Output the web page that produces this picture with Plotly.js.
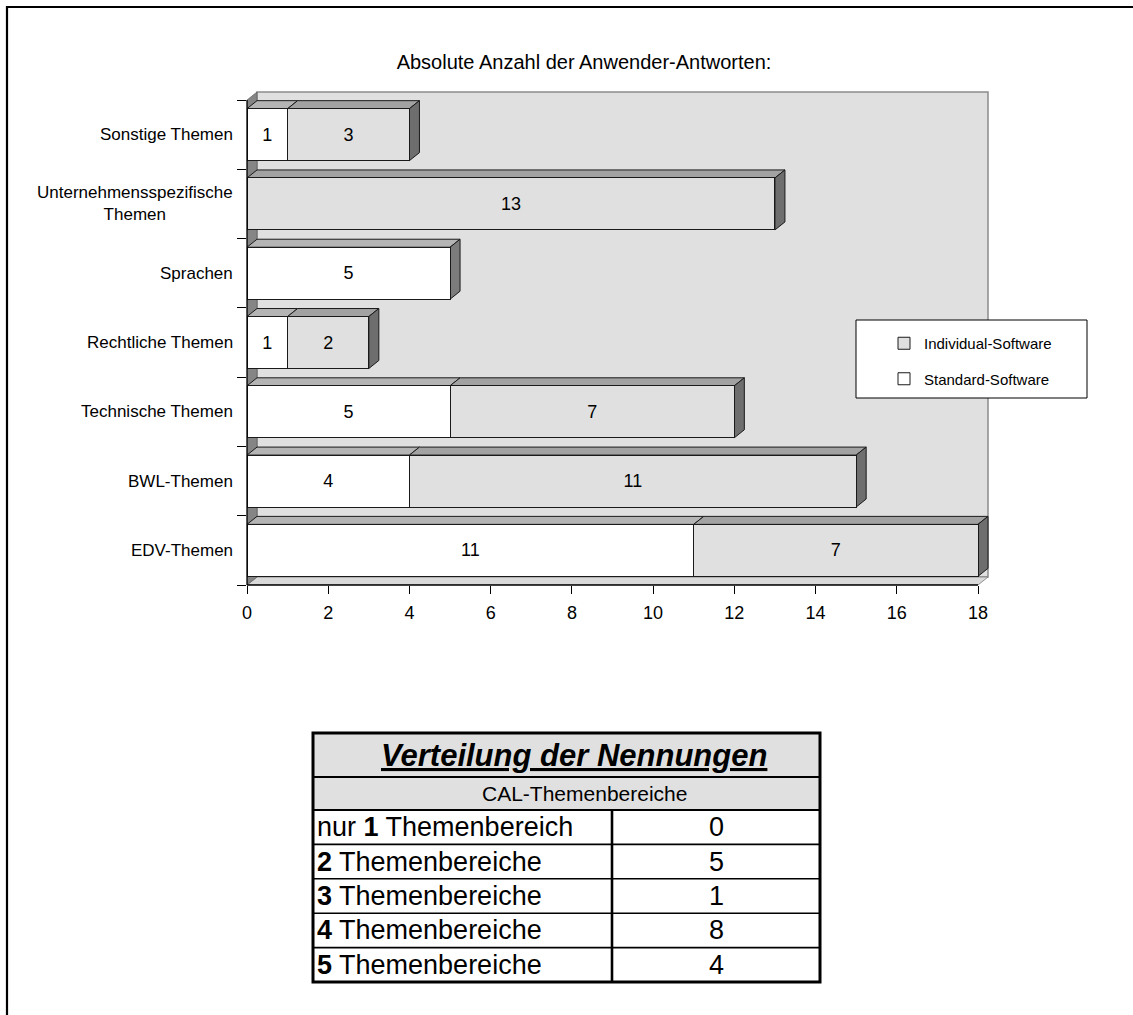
<!DOCTYPE html>
<html>
<head>
<meta charset="utf-8">
<script src="https://cdn.plot.ly/plotly-3.0.1.min.js"></script>
<style>
  html, body { margin: 0; padding: 0; background: #ffffff; }
  #chart { width: 1133px; height: 1015px; }
</style>
</head>
<body>
<div id="chart"></div>
<script>
// ---- data ----
const categories = ['EDV-Themen', 'BWL-Themen', 'Technische Themen', 'Rechtliche Themen',
                    'Sprachen', 'Unternehmensspezifische Themen', 'Sonstige Themen'];
const categoryLabels = ['EDV-Themen', 'BWL-Themen', 'Technische Themen', 'Rechtliche Themen',
                        'Sprachen', 'Unternehmensspezifische<br>Themen', 'Sonstige Themen'];
const standardSoftware = [11, 4, 5, 1, 5, 0, 1];
const individualSoftware = [7, 11, 7, 2, 0, 13, 3];
const xTickValues = [0, 2, 4, 6, 8, 10, 12, 14, 16, 18];
const chartTitle = 'Absolute Anzahl der Anwender-Antworten:';

const tableTitle = 'Verteilung der Nennungen';
const tableSubtitle = 'CAL-Themenbereiche';
const tableTopicCounts = [1, 2, 3, 4, 5];
const tableMentions = [0, 5, 1, 8, 4];

// ---- geometry of the plot area (pixels) ----
const FONT = 'Liberation Sans, Arial, sans-serif';
const L = 247;            // left edge of plot area
const axisLenPx = 731;    // pixel length of 0..18 on the value axis
const xAxisMax = 18;
const unitPx = axisLenPx / xAxisMax;
const bandPx = 485 / categories.length;
const depthX = 10, depthY = 8;           // 3-D depth of bars and walls
const plotBottom = 585;
const plotTop = 100 - depthY - 3;
const H = plotBottom - plotTop;
const W = axisLenPx + depthX + 3;

const dxU = depthX / unitPx;
const dyU = depthY / bandPx;
const xMax = W / unitPx;
const yMin = -0.5;
const yMax = yMin + H / bandPx;
const frontTop = categories.length - 0.5;

const px2x = p => (p - L) / W;
const px2y = p => (plotBottom - p) / H;
const f = v => v.toFixed(5);
const poly = pts => 'M' + pts.map(p => f(p[0]) + ',' + f(p[1])).join(' L') + ' Z';

const barWidth = 0.75;
const series = [
  { name: 'Standard-Software',   values: standardSoftware,   rank: 2, front: '#ffffff', top: '#b4b4b4', side: '#7c7c7c' },
  { name: 'Individual-Software', values: individualSoftware, rank: 1, front: '#e0e0e0', top: '#a2a2a2', side: '#6e6e6e' }
];

// ---- bar traces (front faces) ----
const traces = series.map(s => ({
  type: 'bar',
  orientation: 'h',
  name: s.name,
  legendgroup: s.name,
  legendrank: s.rank,
  x: s.values,
  y: categories,
  width: barWidth,
  marker: { color: s.front, line: { color: '#1a1a1a', width: 1 } },
  text: s.values.map(v => (v ? String(v) : '')),
  textposition: 'inside',
  insidetextanchor: 'middle',
  textangle: 0,
  textfont: { family: FONT, size: 18, color: '#000000' },
  hovertemplate: '%{y}: %{x}<extra>' + s.name + '</extra>'
}));

// ---- walls and floor ----
const shapes = [];
shapes.push({
  type: 'rect', xref: 'x', yref: 'y', layer: 'below',
  x0: dxU, x1: xAxisMax + dxU, y0: yMin + dyU, y1: frontTop + dyU,
  fillcolor: '#e0e0e0', line: { color: '#8c8c8c', width: 1.5 }
});
shapes.push({
  type: 'path', xref: 'x', yref: 'y', layer: 'below',
  path: poly([[0, yMin], [dxU, yMin + dyU], [xAxisMax + dxU, yMin + dyU], [xAxisMax, yMin]]),
  fillcolor: '#d9d9d9', line: { color: '#7a7a7a', width: 0.8 }
});
shapes.push({
  type: 'path', xref: 'x', yref: 'y', layer: 'below',
  path: poly([[0, yMin], [0, frontTop], [dxU, frontTop + dyU], [dxU, yMin + dyU]]),
  fillcolor: '#858585', line: { color: '#555555', width: 0.6 }
});

// ---- top and side faces of the stacked bars ----
categories.forEach((c, i) => {
  const yB = i - barWidth / 2, yT = i + barWidth / 2;
  let cum = 0, last = null;
  series.forEach(s => {
    const v = s.values[i];
    if (!v) return;
    const x0 = cum, x1 = cum + v;
    shapes.push({
      type: 'path', xref: 'x', yref: 'y', layer: 'below',
      path: poly([[x0, yT], [x1, yT], [x1 + dxU, yT + dyU], [x0 + dxU, yT + dyU]]),
      fillcolor: s.top, line: { color: '#1a1a1a', width: 1 }
    });
    cum = x1; last = s;
  });
  if (last) {
    shapes.push({
      type: 'path', xref: 'x', yref: 'y', layer: 'below',
      path: poly([[cum, yB], [cum, yT], [cum + dxU, yT + dyU], [cum + dxU, yB + dyU]]),
      fillcolor: last.side, line: { color: '#1a1a1a', width: 1 }
    });
  }
});

// ---- front axis lines ----
shapes.push({
  type: 'line', xref: 'paper', yref: 'paper', layer: 'above',
  x0: 0, x1: 0, y0: 0, y1: (frontTop - yMin) / (yMax - yMin),
  line: { color: '#000000', width: 1.3 }
});
shapes.push({
  type: 'line', xref: 'paper', yref: 'paper', layer: 'above',
  x0: 0, x1: xAxisMax / xMax, y0: 0, y1: 0,
  line: { color: '#000000', width: 1.3 }
});

// ---- legend frame ----
shapes.push({
  type: 'rect', xref: 'paper', yref: 'paper', layer: 'above',
  x0: px2x(856), x1: px2x(1087), y0: px2y(320), y1: px2y(398),
  fillcolor: '#ffffff', line: { color: '#000000', width: 1 }
});

// ---- outer frame ----
shapes.push({
  type: 'rect', xref: 'paper', yref: 'paper', layer: 'above',
  x0: px2x(7), x1: px2x(1160), y0: px2y(7), y1: px2y(1040),
  fillcolor: 'rgba(0,0,0,0)', line: { color: '#000000', width: 2.2 }
});

// ---- category labels ----
const annotations = categoryLabels.map((lab, i) => ({
  xref: 'paper', yref: 'y', x: 0, y: i, xanchor: 'right', yanchor: 'middle',
  xshift: -12, text: lab, showarrow: false, align: 'center',
  font: { family: FONT, size: 17, color: '#000000' }
}));

// ---- summary table ----
const tbl = { left: 313, mid: 612, right: 820, top: 733, head: 777, sub: 810, rowH: 34.4 };
const tblBottom = tbl.sub + tableMentions.length * tbl.rowH;
const hline = (y, x0, x1, w) => ({
  type: 'line', xref: 'paper', yref: 'paper', layer: 'above',
  x0: px2x(x0), x1: px2x(x1), y0: px2y(y), y1: px2y(y), line: { color: '#000000', width: w }
});
const vline = (x, y0, y1, w) => ({
  type: 'line', xref: 'paper', yref: 'paper', layer: 'above',
  x0: px2x(x), x1: px2x(x), y0: px2y(y0), y1: px2y(y1), line: { color: '#000000', width: w }
});
shapes.push({
  type: 'rect', xref: 'paper', yref: 'paper', layer: 'above',
  x0: px2x(tbl.left), x1: px2x(tbl.right), y0: px2y(tbl.top), y1: px2y(tbl.sub),
  fillcolor: '#e0e0e0', line: { width: 0 }
});
shapes.push(hline(tbl.head, tbl.left, tbl.right, 2));
shapes.push(hline(tbl.sub, tbl.left, tbl.right, 2));
for (let r = 1; r < tableMentions.length; r++) {
  shapes.push(hline(tbl.sub + r * tbl.rowH, tbl.left, tbl.right, 1.6));
}
shapes.push(vline(tbl.mid, tbl.sub, tblBottom, 2.6));
shapes.push({
  type: 'rect', xref: 'paper', yref: 'paper', layer: 'above',
  x0: px2x(tbl.left), x1: px2x(tbl.right), y0: px2y(tbl.top), y1: px2y(tblBottom),
  fillcolor: 'rgba(0,0,0,0)', line: { color: '#000000', width: 3 }
});

annotations.push({
  xref: 'paper', yref: 'paper', x: px2x(574), y: px2y((tbl.top + tbl.head) / 2),
  xanchor: 'center', yanchor: 'middle', showarrow: false,
  text: '<b><i><u>' + tableTitle + '</u></i></b>',
  font: { family: FONT, size: 31, color: '#000000' }
});
annotations.push({
  xref: 'paper', yref: 'paper', x: px2x(584), y: px2y((tbl.head + tbl.sub) / 2),
  xanchor: 'center', yanchor: 'middle', showarrow: false,
  text: tableSubtitle, font: { family: FONT, size: 21, color: '#000000' }
});
tableTopicCounts.forEach((n, r) => {
  const yc = px2y(tbl.sub + (r + 0.5) * tbl.rowH);
  const label = (n === 1 ? 'nur <b>' + n + '</b> Themenbereich' : '<b>' + n + '</b> Themenbereiche');
  annotations.push({
    xref: 'paper', yref: 'paper', x: px2x(tbl.left + 2), y: yc,
    xanchor: 'left', yanchor: 'middle', showarrow: false,
    text: label, font: { family: FONT, size: 27, color: '#000000' }
  });
  annotations.push({
    xref: 'paper', yref: 'paper', x: px2x((tbl.mid + tbl.right) / 2), y: yc,
    xanchor: 'center', yanchor: 'middle', showarrow: false,
    text: String(tableMentions[r]), font: { family: FONT, size: 27, color: '#000000' }
  });
});

const layout = {
  width: 1133, height: 1015,
  margin: { l: L, r: 1133 - L - W, t: plotTop, b: 1015 - plotBottom, pad: 0 },
  paper_bgcolor: '#ffffff', plot_bgcolor: '#ffffff',
  font: { family: FONT, color: '#000000' },
  title: {
    text: chartTitle, font: { family: FONT, size: 20, color: '#000000' },
    xref: 'container', x: 584 / 1133, xanchor: 'center',
    yref: 'container', y: 1 - 62 / 1015, yanchor: 'middle'
  },
  barmode: 'stack',
  bargap: 0.25,
  showlegend: true,
  legend: {
    x: px2x(884), y: px2y(327), xanchor: 'left', yanchor: 'top',
    bgcolor: 'rgba(0,0,0,0)', borderwidth: 0,
    traceorder: 'grouped', tracegroupgap: 13,
    font: { family: FONT, size: 15, color: '#000000' }
  },
  xaxis: {
    range: [0, xMax], tickvals: xTickValues, ticktext: xTickValues.map(String),
    ticks: 'outside', ticklen: 8, tickwidth: 1, tickcolor: '#000000',
    ticklabelstandoff: 3,
    tickfont: { family: FONT, size: 18, color: '#000000' },
    showgrid: false, zeroline: false, showline: false, fixedrange: true
  },
  yaxis: {
    type: 'category', categoryorder: 'array', categoryarray: categories,
    range: [yMin, yMax],
    ticks: 'outside', tickson: 'boundaries', ticklen: 9, tickwidth: 1, tickcolor: '#000000',
    showticklabels: false, showgrid: false, zeroline: false, showline: false, fixedrange: true
  },
  shapes: shapes,
  annotations: annotations
};

Plotly.newPlot('chart', traces, layout, { displayModeBar: false, staticPlot: true });
</script>
</body>
</html>
